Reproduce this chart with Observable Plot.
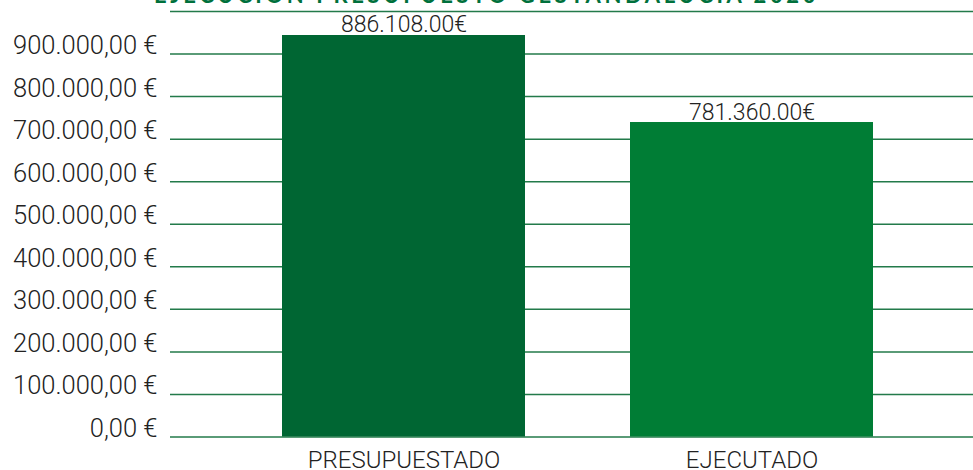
<!DOCTYPE html>
<html><head><meta charset="utf-8">
<script src="https://cdn.jsdelivr.net/npm/d3@7"></script>
<script src="https://cdn.jsdelivr.net/npm/@observablehq/plot@0.6"></script>
<style>
body{margin:0;background:#fff;overflow:hidden}
#wrap{position:relative;width:973px;height:470px;overflow:hidden}
#title{position:absolute;top:-16px;left:0;width:973px;text-align:center;font-family:Lato,sans-serif;font-weight:bold;font-size:22px;letter-spacing:3.6px;color:#00703c;white-space:nowrap;line-height:22px}
#chart{position:absolute;top:0;left:0}
</style></head><body>
<div id="wrap"><div id="title">EJECUCIÓN PRESUPUESTO GESTANDALUCÍA 2020</div><div id="chart"></div></div>
<script>
const categories = ["PRESUPUESTADO", "EJECUTADO"];
const barValues = [943600, 739100];
const valueLabels = ["886.108.00€", "781.360.00€"];
const barColors = ["#006633", "#007d35"];
const yTicks = [0, 100000, 200000, 300000, 400000, 500000, 600000, 700000, 800000, 900000];
const yTickLabels = ["0,00 €", "100.000,00 €", "200.000,00 €", "300.000,00 €", "400.000,00 €", "500.000,00 €", "600.000,00 €", "700.000,00 €", "800.000,00 €", "900.000,00 €"];
const gridTicks = [0, 100000, 200000, 300000, 400000, 500000, 600000, 700000, 800000, 900000, 1000000];

const data = categories.map((c, i) => ({cat: c, v: barValues[i], label: valueLabels[i], color: barColors[i]}));

const chart = Plot.plot({
  width: 973, height: 470,
  marginTop: 11, marginBottom: 33.5, marginLeft: 170, marginRight: 0,
  x: {domain: categories, paddingInner: 0.302, paddingOuter: 0.3046, align: 0.528, axis: null},
  y: {domain: [0, 1000000], axis: null},
  style: {fontFamily: "Roboto, sans-serif", background: "transparent"},
  marks: [
    Plot.ruleY(gridTicks, {stroke: "#237a4a", strokeWidth: 1.5}),
    Plot.barY(data, {x: "cat", y: "v", fill: "color"}),
    Plot.text(data, {x: "cat", y: "v", text: "label", lineAnchor: "bottom", dy: -3, fontSize: 23, fontWeight: 300, fill: "#222"}),
    Plot.text(yTicks, {y: d => d, text: (d, i) => yTickLabels[i], frameAnchor: "left", textAnchor: "end", lineAnchor: "bottom", dx: -13, dy: 0, fontSize: 25.5, fontWeight: 300, fill: "#222"}),
    Plot.text(categories, {x: d => d, text: d => d, frameAnchor: "bottom", lineAnchor: "bottom", dy: 30.5, fontSize: 24, fontWeight: 300, fill: "#222"})
  ]
});
document.getElementById("chart").appendChild(chart);
</script>
</body></html>
